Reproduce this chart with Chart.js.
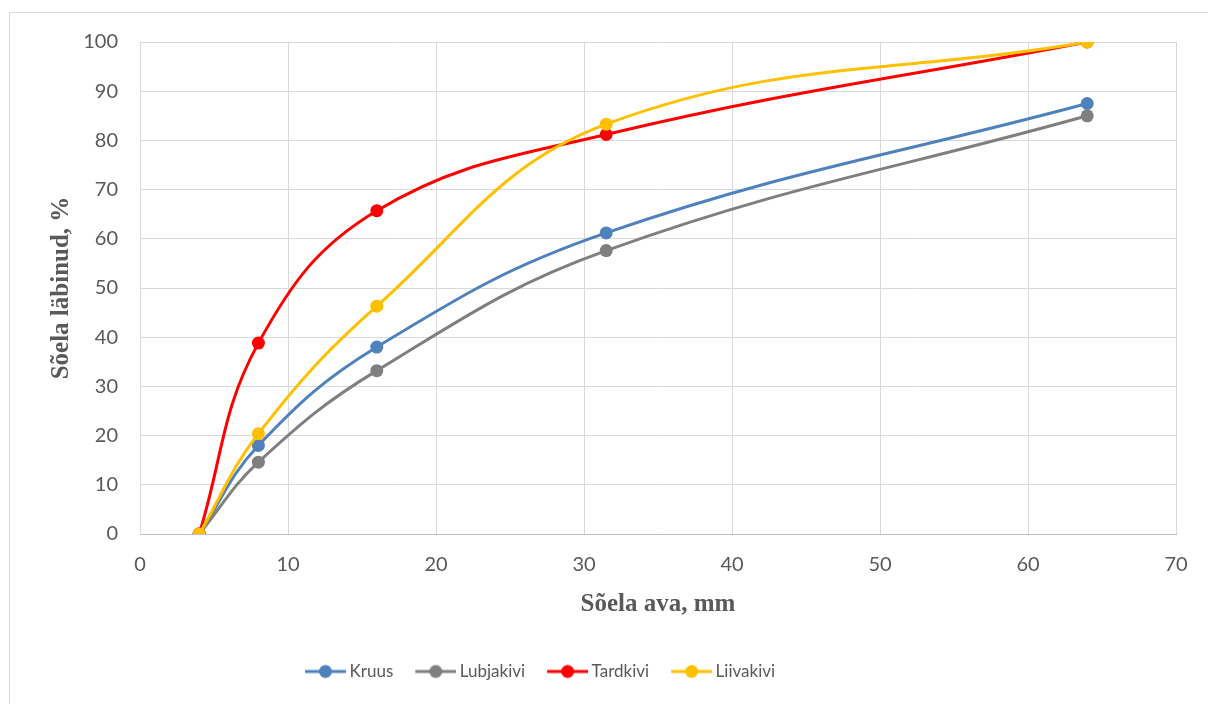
<!DOCTYPE html>
<html>
<head>
<meta charset="utf-8">
<script src="https://cdn.jsdelivr.net/npm/chart.js@4"></script>
<style>
  html, body { margin: 0; padding: 0; background: #fff; }
  #wrap { position: relative; width: 1208px; height: 704px; overflow: hidden; }
  #frame { position: absolute; left: 9px; top: 12px; width: 1300px; height: 800px; border: 1px solid #d9d9d9; }
  #c { position: absolute; left: 0; top: 0; }
</style>
</head>
<body>
<div id="wrap">
  <div id="frame"></div>
  <canvas id="c" width="1208" height="704"></canvas>
</div>
<script>
// sieve openings, mm
var sieves = [4, 8, 16, 31.5, 64];
var kruus = [0, 18.0, 38.0, 61.2, 87.5];
var lubjakivi = [0, 14.6, 33.2, 57.6, 85.0];
var tardkivi = [0, 38.8, 65.7, 81.2, 100];
var liivakivi = [0, 20.4, 46.3, 83.3, 100];

var names = ['Kruus', 'Lubjakivi', 'Tardkivi', 'Liivakivi'];
var colors = ['#4f81bd', '#7f7f7f', '#ff0000', '#ffc000'];
var values = [kruus, lubjakivi, tardkivi, liivakivi];

var xTicks = [0, 10, 20, 30, 40, 50, 60, 70];
var yTicks = [0, 10, 20, 30, 40, 50, 60, 70, 80, 90, 100];

function legendIcon(color) {
    var cv = document.createElement('canvas');
    cv.width = 58;
    cv.height = 16;
    var g = cv.getContext('2d');
    g.strokeStyle = color;
    g.lineWidth = 3;
    g.beginPath();
    g.moveTo(17, 8);
    g.lineTo(58, 8);
    g.stroke();
    g.fillStyle = color;
    g.beginPath();
    g.arc(37.5, 8, 6.5, 0, Math.PI * 2);
    g.fill();
    return cv;
}

var datasets = [];
for (var i = 0; i < names.length; i++) {
    var pts = [];
    for (var j = 0; j < sieves.length; j++) {
        pts.push({x: sieves[j], y: values[i][j]});
    }
    datasets.push({
        label: names[i],
        data: pts,
        borderColor: colors[i],
        backgroundColor: colors[i],
        borderWidth: 3,
        pointRadius: 6.5,
        pointHoverRadius: 6.5,
        pointBorderWidth: 0,
        tension: 0.4,
        order: names.length - i
    });
}

var serif = '"Liberation Serif", "Times New Roman", serif';
var sans = 'Lato, "Open Sans", sans-serif';

// the legend sits left of centre in the original (its frame is cropped)
var legendShift = {
    id: 'legendShift',
    afterLayout: function(chart) {
        if (chart.legend) chart.legend.left = 283;
    }
};

new Chart(document.getElementById('c'), {
    type: 'line',
    data: {datasets: datasets},
    plugins: [legendShift],
    options: {
        responsive: false,
        animation: false,
        layout: {padding: {left: 0, top: 42, right: 32, bottom: 14}},
        scales: {
            x: {
                type: 'linear',
                min: 0,
                max: 70,
                afterBuildTicks: function(s) { s.ticks = xTicks.map(function(v) { return {value: v}; }); },
                afterFit: function(s) { s.height = 119; },
                grid: {color: '#d9d9d9', lineWidth: 1, drawTicks: false},
                border: {color: '#bfbfbf', width: 1},
                ticks: {color: '#595959', font: {family: sans, size: 20}, padding: 19, maxRotation: 0},
                title: {display: true, text: 'Sõela ava, mm', color: '#595959',
                        font: {family: serif, size: 25, weight: 'bold'}, padding: {top: 0, bottom: 33}}
            },
            y: {
                min: 0,
                max: 100,
                afterBuildTicks: function(s) { s.ticks = yTicks.map(function(v) { return {value: v}; }); },
                afterFit: function(s) { s.width = 140; },
                grid: {color: '#d9d9d9', lineWidth: 1, drawTicks: false},
                border: {color: '#d9d9d9', width: 1},
                ticks: {color: '#595959', font: {family: sans, size: 20}, padding: 22},
                title: {display: true, text: 'Sõela läbinud, %', color: '#595959',
                        font: {family: serif, size: 25, weight: 'bold'}, padding: {top: 47, bottom: 0}}
            }
        },
        plugins: {
            tooltip: {enabled: false},
            legend: {
                position: 'bottom',
                align: 'start',
                labels: {
                    usePointStyle: true,
                    pointStyleWidth: 48,
                    padding: 10,
                    color: '#595959',
                    font: {family: sans, size: 17},
                    generateLabels: function(chart) {
                        return chart.data.datasets.map(function(ds, k) {
                            return {
                                text: ds.label,
                                pointStyle: legendIcon(ds.borderColor),
                                fillStyle: ds.borderColor,
                                strokeStyle: ds.borderColor,
                                lineWidth: 0,
                                fontColor: '#595959',
                                datasetIndex: k
                            };
                        });
                    }
                }
            }
        }
    }
});
</script>
</body>
</html>
